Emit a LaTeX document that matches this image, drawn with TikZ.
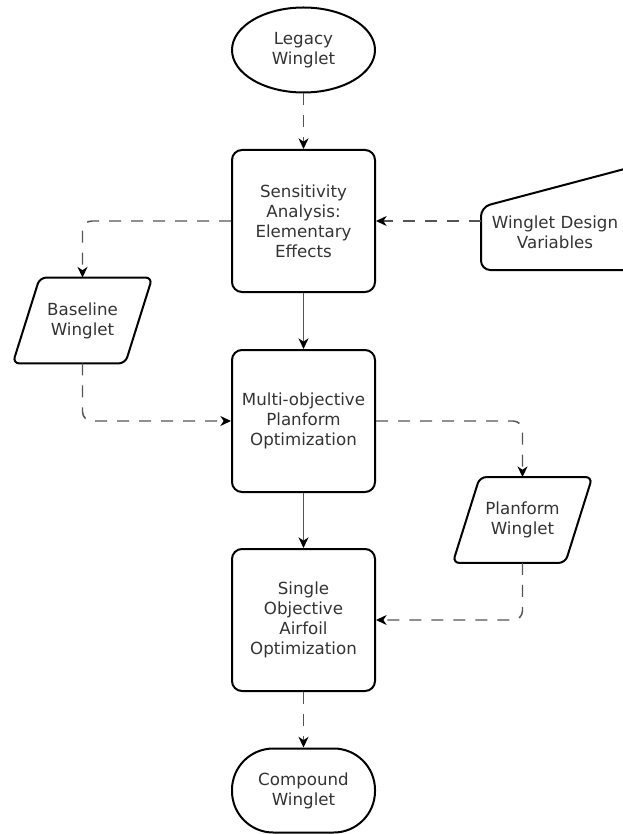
\documentclass[tikz,border=0pt]{standalone}
\usepackage{fontspec}
\setmainfont{DejaVu Sans}
\usetikzlibrary{arrows.meta,calc,shapes.geometric}
\definecolor{txtc}{HTML}{333333}
\definecolor{linec}{HTML}{555555}
\begin{document}
\begin{tikzpicture}[x=0.75pt,y=-0.75pt,
  lbl/.style={text=txtc,font=\fontsize{12.5}{15}\selectfont,align=center,inner sep=0pt},
  shp/.style={draw=black,line width=1.5pt},
  procbox/.style={shp,lbl,rounded corners=7.5pt,minimum width=107.25pt,minimum height=106.5pt},
  termell/.style={shp,lbl,ellipse,minimum width=107.25pt,minimum height=63.75pt},
  termstad/.style={shp,lbl,rounded corners=31pt,minimum width=107.25pt,minimum height=63pt},
  ionode/.style={lbl,minimum width=104.25pt,minimum height=64pt},
  para/.style={shp,rounded corners=5pt},
  conn/.style={draw=linec,line width=1.1pt,rounded corners=7pt,-{Stealth[length=8pt,width=7.5pt,inset=2.5pt,color=black]}},
  dashconn/.style={conn,dash pattern=on 9pt off 7.5pt},
]
\useasboundingbox (0,0) rectangle (622,834);

% main column
\node[termell] (legacy) at (303.5,50) {Legacy\\Winglet};
\node[procbox] (sens) at (303.5,221) {Sensitivity\\Analysis:\\Elementary\\Effects};
\node[procbox] (multi) at (303.5,421) {Multi-objective\\Planform\\Optimization};
\node[procbox] (single) at (303.5,620) {Single\\Objective\\Airfoil\\Optimization};
\node[termstad] (compound) at (303.5,790.5) {Compound\\Winglet};

% baseline winglet (parallelogram)
\node[ionode] (base) at (82.5,320.5) {Baseline\\Winglet};
\draw[para] (base.south west) -- ($(base.north west)+(27,0)$) -- (base.north east)
  -- ($(base.south east)+(-27,0)$) -- cycle;

% planform winglet (parallelogram)
\node[ionode] (plan) at (522.5,520) {Planform\\Winglet};
\draw[para] (plan.south west) -- ($(plan.north west)+(27,0)$) -- (plan.north east)
  -- ($(plan.south east)+(-27,0)$) -- cycle;

% winglet design variables (manual input)
\node[lbl] (wdv) at (555,232) {Winglet Design\\Variables};
\coordinate (wdvbl) at (481,270);
\coordinate (wdvtl) at (481,207);
\coordinate (wdvtr) at (632,167);
\coordinate (wdvbr) at (632,270);
\draw[para,rounded corners=7pt] (wdvbl) -- (wdvtl) -- (wdvtr) -- (wdvbr) -- cycle;

% connectors
\draw[dashconn] (legacy.south) -- (sens.north);
\draw[dashconn] (sens.east -| wdvbl) -- (sens.east);
\draw[dashconn] (sens.west) -| (base.north);
\draw[dashconn] (base.south) |- (multi.west);
\draw[conn] (sens.south) -- (multi.north);
\draw[dashconn] (multi.east) -| (plan.north);
\draw[dashconn] (plan.south) |- (single.east);
\draw[conn] (multi.south) -- (single.north);
\draw[dashconn] (single.south) -- (compound.north);
\end{tikzpicture}
\end{document}
